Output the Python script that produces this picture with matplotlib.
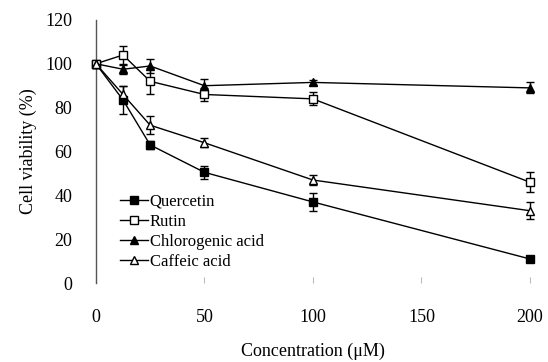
import matplotlib.pyplot as plt

# concentraciones (uM)
conc = [0, 12.5, 25, 50, 100, 200]

quercetin = [100, 83.5, 63, 50.5, 37, 11]
quercetin_err = [0, 6.5, 2, 3, 4, 1]

rutin = [100, 104, 92, 86, 84, 46]
rutin_err = [0, 4, 6, 3, 3, 4.5]

chlorogenic = [100, 97.5, 99, 90, 91.5, 89]
chlorogenic_err = [0, 2, 3, 3, 1, 2.5]

caffeic = [100, 86, 72, 64, 47, 33]
caffeic_err = [0, 4, 4, 2, 2.5, 4]

etiquetas = ["Quercetin", "Rutin", "Chlorogenic acid", "Caffeic acid"]

plt.rcParams['font.family'] = ['Liberation Serif', 'DejaVu Serif']

fig = plt.figure(figsize=(5.48, 3.62), dpi=100)
ax = fig.add_axes([0.175, 0.218, 0.792, 0.727])

series = [
    (quercetin, quercetin_err, 's', 'black'),
    (rutin, rutin_err, 's', 'white'),
    (chlorogenic, chlorogenic_err, '^', 'black'),
    (caffeic, caffeic_err, '^', 'white'),
]

for (vals, errs, mk, fc), nombre in zip(series, etiquetas):
    # barras de error sin leyenda
    ax.errorbar(conc, vals, yerr=errs, fmt='none', ecolor='black',
                capsize=3, elinewidth=1, capthick=1, clip_on=False, zorder=2)
    ax.plot(conc, vals, color='black', lw=1, marker=mk, markersize=6,
            markerfacecolor=fc, markeredgecolor='black', markeredgewidth=1,
            label=nombre, clip_on=False, zorder=3)

ax.set_xlim(0, 200)
ax.set_ylim(0, 120)
ax.set_xticks([0, 50, 100, 150, 200])
ax.set_yticks([0, 20, 40, 60, 80, 100, 120])

ax.spines['top'].set_visible(False)
ax.spines['right'].set_visible(False)
ax.spines['bottom'].set_visible(False)
ax.spines['left'].set_color('#555555')
ax.spines['left'].set_linewidth(1)

ax.tick_params(axis='x', direction='in', length=4, color='#bbbbbb', pad=19, labelsize=13)
ax.tick_params(axis='y', length=0, pad=17, labelsize=13)

ax.set_xlabel("Concentration (μM)", fontsize=13, labelpad=12)
ax.set_ylabel("Cell viability (%)", fontsize=13, labelpad=6)

leg = ax.legend(loc='upper left', bbox_to_anchor=(0.055, 0.34), frameon=False,
                fontsize=12, handlelength=1.7, handletextpad=0.1,
                labelspacing=0.24, borderpad=0, borderaxespad=0,
                markerscale=0.9)

fig.savefig("out.png", dpi=100)
